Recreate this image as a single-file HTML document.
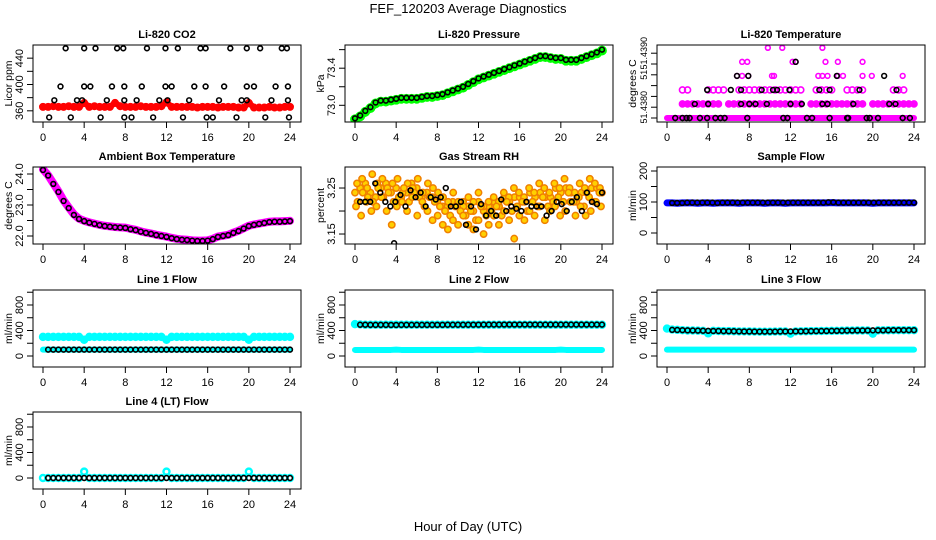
<!DOCTYPE html>
<html><head><meta charset="utf-8"><title>FEF_120203 Average Diagnostics</title>
<style>
html,body{margin:0;padding:0;background:#fff;}
svg{display:block;font-family:"Liberation Sans",Arial,sans-serif;}
</style></head>
<body>
<svg id="chart" width="936" height="540" viewBox="0 0 936 540" xmlns="http://www.w3.org/2000/svg">
<rect x="0" y="0" width="936" height="540" fill="#fff"/>
<text x="468" y="13" text-anchor="middle" font-size="13">FEF_120203  Average Diagnostics</text>
<text x="468" y="531" text-anchor="middle" font-size="13">Hour of Day (UTC)</text>
</svg>
<script>
// ---------- data ----------
const xTickValues = [0,4,8,12,16,20,24];
const xTickLabels = ["0","4","8","12","16","20","24"];

// CO2
const co2Red = [366,366,367,366,366,367,366,366,372,366,367,366,366,366,372,367,366,366,366,367,366,366,366,367,373,366,366,366,366,366,365,366,366,366,365,366,366,366,365,365,372,365,365,365,366,365,365,366,366];
const co2BlackHours = [2.2,4.0,5.1,7.2,7.8,10.1,11.9,13.1,15.3,15.8,18.2,19.8,21.1,23.2,23.7, 1.7,4.0,4.6,6.7,7.9,9.6,11.9,12.5,14.7,15.8,17.6,19.8,20.5,22.6,23.8, 1.1,3.3,3.8,6.2,7.9,9.1,11.3,12.1,14.2,17.1,19.3,19.8,22.2,23.8, 0.6,2.7,5.6,7.9,8.6,10.7,13.6,15.9,16.5,18.8,21.6,23.9];
const co2BlackValues = [455,455,455,455,455,455,455,455,455,455,455,455,455,455,455, 397,397,397,397,397,397,397,397,397,397,397,397,397,397,397, 376,376,376,376,376,376,376,376,376,376,376,376,376,376, 350,350,350,350,350,350,350,350,350,350,350,350];

// Pressure
const presGreen = [72.85,72.88,72.93,72.97,73.02,73.04,73.04,73.05,73.06,73.07,73.07,73.07,73.07,73.08,73.09,73.09,73.10,73.11,73.13,73.15,73.17,73.19,73.22,73.25,73.28,73.30,73.32,73.34,73.36,73.38,73.40,73.42,73.44,73.46,73.48,73.50,73.52,73.52,73.51,73.50,73.50,73.48,73.48,73.48,73.50,73.52,73.54,73.56,73.59];
const presBlack = [72.86,72.89,72.94,72.98,73.03,73.05,73.05,73.06,73.07,73.08,73.08,73.08,73.08,73.09,73.10,73.10,73.11,73.12,73.14,73.16,73.18,73.20,73.23,73.26,73.29,73.31,73.33,73.35,73.37,73.39,73.41,73.43,73.45,73.47,73.49,73.51,73.53,73.53,73.52,73.51,73.51,73.49,73.49,73.49,73.51,73.53,73.55,73.57,73.60];

// Li-820 temperature (discrete levels)
const ltL0 = 51.43800, ltL1 = 51.43813, ltL2 = 51.43826, ltL3 = 51.43839, ltL4 = 51.43852, ltL5 = 51.43865;
const ltMag0 = [ltL0,ltL0,ltL0,ltL0,ltL0,ltL0,ltL0,ltL0,ltL0,ltL0,ltL0,ltL0,ltL0,ltL0,ltL0,ltL0,ltL0,ltL0,ltL0,ltL0,ltL0,ltL0,ltL0,ltL0,ltL0,ltL0,ltL0,ltL0,ltL0,ltL0,ltL0,ltL0,ltL0,ltL0,ltL0,ltL0,ltL0,ltL0,ltL0,ltL0,ltL0,ltL0,ltL0,ltL0,ltL0,ltL0,ltL0,ltL0,ltL0];
const ltMag1 = [null,null,null,ltL1,ltL1,ltL1,ltL1,ltL1,ltL1,ltL1,ltL1,null,ltL1,ltL1,ltL1,ltL1,ltL1,ltL1,ltL1,ltL1,ltL1,ltL1,ltL1,ltL1,ltL1,ltL1,ltL1,null,ltL1,ltL1,ltL1,ltL1,ltL1,ltL1,ltL1,ltL1,ltL1,ltL1,ltL1,null,ltL1,ltL1,ltL1,ltL1,ltL1,ltL1,ltL1,ltL1,ltL1];
const ltMag2 = [null,null,null,ltL2,ltL2,null,null,null,ltL2,ltL2,ltL2,ltL2,null,null,ltL2,ltL2,ltL2,ltL2,ltL2,ltL2,ltL2,ltL2,ltL2,ltL2,ltL2,ltL2,ltL2,null,null,ltL2,ltL2,ltL2,ltL2,null,null,ltL2,ltL2,ltL2,ltL2,null,null,null,null,null,ltL2,ltL2,ltL2,null,null];
const ltMagHours = [6.8,7.3,7.9,10.2,10.4,14.7,15.1,15.6,16.6,17.1,19.0,19.9,22.9, 7.3,7.8,12.2,12.5,15.4,16.6,19.0, 9.8,11.2,15.1];
const ltMagValues = [ltL3,ltL3,ltL3,ltL3,ltL3,ltL3,ltL3,ltL3,ltL3,ltL3,ltL3,ltL3,ltL3, ltL4,ltL4,ltL4,ltL4,ltL4,ltL4,ltL4, ltL5,ltL5,ltL5];
const ltBlackHours = [0.8,1.5,1.9,2.2,3.2,3.9,4.7,5.2,5.6,7.8,11.3,11.7,13.6,14.1,15.8,17.5,17.6,19.4,19.7,20.5,22.9,23.6, 2.7,4.0,7.2,8.0,8.6,9.7,12.0,13.1,15.1,15.6,18.1,21.6,22.2, 3.9,6.2,7.2,9.2,10.3,10.7,11.9,14.8,15.8,18.7,22.3, 6.8,7.9,16.5,21.1, 12.5];
const ltBlackValues = [ltL0,ltL0,ltL0,ltL0,ltL0,ltL0,ltL0,ltL0,ltL0,ltL0,ltL0,ltL0,ltL0,ltL0,ltL0,ltL0,ltL0,ltL0,ltL0,ltL0,ltL0,ltL0, ltL1,ltL1,ltL1,ltL1,ltL1,ltL1,ltL1,ltL1,ltL1,ltL1,ltL1,ltL1,ltL1, ltL2,ltL2,ltL2,ltL2,ltL2,ltL2,ltL2,ltL2,ltL2,ltL2,ltL2, ltL3,ltL3,ltL3,ltL3, ltL4];

// Ambient box temperature
const ambMagenta = [24.15,23.96,23.70,23.44,23.15,22.92,22.70,22.56,22.49,22.44,22.40,22.36,22.33,22.31,22.29,22.28,22.27,22.23,22.20,22.15,22.11,22.08,22.04,22.01,21.98,21.94,21.91,21.89,21.88,21.86,21.85,21.85,21.86,21.91,21.98,22.01,22.04,22.11,22.17,22.25,22.33,22.37,22.40,22.43,22.46,22.47,22.47,22.48,22.49];
const ambBlack = [24.13,23.95,23.68,23.42,23.13,22.90,22.68,22.55,22.48,22.43,22.39,22.35,22.32,22.30,22.28,22.27,22.26,22.22,22.19,22.14,22.10,22.07,22.03,22.00,21.97,21.93,21.90,21.88,21.87,21.85,21.84,21.84,21.85,21.90,21.97,22.00,22.03,22.10,22.16,22.24,22.32,22.36,22.39,22.42,22.45,22.46,22.46,22.47,22.48];

// Gas stream RH
const rhCloudA = [3.26,3.27,3.25,3.28,3.26,3.27,3.25,3.26,3.27,3.24,3.26,3.25,3.27,3.24,3.26,3.25,3.24,3.23,3.22,3.24,3.22,3.21,3.23,3.22,3.24,3.21,3.22,3.23,3.22,3.24,3.23,3.25,3.24,3.23,3.25,3.24,3.26,3.25,3.24,3.26,3.25,3.27,3.25,3.24,3.26,3.25,3.27,3.26,3.25];
const rhCloudB = [3.22,3.24,3.23,3.22,3.25,3.23,3.24,3.22,3.23,3.25,3.22,3.24,3.23,3.21,3.23,3.22,3.21,3.20,3.19,3.21,3.20,3.19,3.20,3.18,3.21,3.19,3.20,3.21,3.19,3.22,3.20,3.21,3.22,3.20,3.22,3.21,3.23,3.21,3.22,3.23,3.22,3.24,3.22,3.23,3.21,3.23,3.22,3.24];
const rhCloudC = [3.21,3.19,3.22,3.20,3.21,3.23,3.20,3.17,3.21,3.22,3.20,3.23,3.19,3.22,3.20,3.18,3.19,3.17,3.16,3.18,3.17,3.19,3.17,3.16,3.18,3.15,3.17,3.19,3.17,3.20,3.18,3.14,3.19,3.18,3.20,3.19,3.21,3.18,3.20,3.21,3.19,3.20,3.22,3.19,3.21,3.19,3.20,3.22,3.21];
const rhCloudD = [3.24,3.25,3.26,3.24,3.23,3.25,3.26,3.24,3.25,3.23,3.24,3.26,3.25,3.23,3.24,3.23,3.22,3.21,3.21,3.22,3.21,3.22,3.21,3.20,3.22,3.20,3.21,3.22,3.21,3.23,3.22,3.23,3.23,3.22,3.24,3.23,3.24,3.23,3.23,3.25,3.24,3.25,3.24,3.22,3.24,3.24,3.25,3.25,3.24];
const rhBlack = [3.22,3.22,3.22,3.26,3.24,3.22,3.21,3.22,3.235,3.21,3.245,3.23,3.24,3.21,3.23,3.225,3.23,3.25,3.21,3.21,3.22,3.17,3.21,3.16,3.215,3.19,3.20,3.19,3.225,3.20,3.21,3.205,3.20,3.22,3.21,3.21,3.21,3.19,3.20,3.22,3.215,3.20,3.22,3.23,3.20,3.24,3.22,3.215,3.24];
const rhOutlierHours = [3.8];
const rhOutlierValues = [3.13];

// Sample flow
const sampleBlue = [97,97,96,97,97,97,96,97,97,96,97,97,97,97,96,97,97,97,97,96,97,97,97,96,97,97,97,97,97,97,97,97,98,97,97,97,97,97,97,97,96,97,97,97,97,97,97,97,97];
const sampleBlack = [97,97,97,98,98,98,98,98,98,97,98,98,98,98,98,98,98,98,98,98,98,98,98,98,98,98,98,98,98,98,98,99,99,98,98,98,98,98,98,98,98,98,98,98,98,98,98,98,98];

// Line flows
const l1CyanHigh = [300,300,300,300,300,300,300,300,255,300,300,300,300,300,300,300,300,300,300,300,300,300,300,300,255,300,300,300,300,300,300,300,300,300,300,300,300,300,300,300,255,300,300,300,300,300,300,300,300];
const l1CyanLow = [100,100,100,100,100,100,100,100,100,100,100,100,100,100,100,100,100,100,100,100,100,100,100,100,100,100,100,100,100,100,100,100,100,100,100,100,100,100,100,100,100,100,100,100,100,100,100,100,100];
const l1Black = [null,100,100,100,100,100,100,100,100,100,100,100,100,100,100,100,100,100,100,100,100,100,100,100,100,100,100,100,100,100,100,100,100,100,100,100,100,100,100,100,100,100,100,100,100,100,100,100,100];
const l2CyanHigh = [500,495,490,490,490,490,490,490,490,490,490,490,490,490,490,490,490,490,490,490,490,490,490,490,490,490,490,490,490,490,490,490,490,490,490,490,490,490,490,490,490,490,490,490,490,490,490,490,490];
const l2CyanLow = [95,95,95,95,95,95,95,95,100,95,95,95,95,95,95,95,95,95,95,95,95,95,95,95,100,95,95,95,95,95,95,95,95,95,95,95,95,95,95,95,100,95,95,95,95,95,95,95,95];
const l2Black = [null,490,490,488,488,488,488,487,487,488,488,488,488,488,488,488,489,489,490,490,490,490,490,491,491,492,492,492,492,493,493,493,493,493,493,493,492,492,492,492,492,492,492,492,492,492,492,492,492];
const l3CyanHigh = [430,415,410,405,400,400,398,395,355,395,392,390,390,388,386,385,384,383,382,382,382,383,384,385,350,386,387,388,390,391,392,393,394,395,396,398,399,400,400,401,350,402,403,404,405,405,405,405,405];
const l3CyanLow = [100,100,100,100,100,100,100,100,100,100,100,100,100,100,100,100,100,100,100,100,100,100,100,100,100,100,100,100,100,100,100,100,100,100,100,100,100,100,100,100,100,100,100,100,100,100,100,100,100];
const l3Black = [null,410,408,405,402,400,398,396,395,393,392,390,389,388,386,385,384,383,382,382,382,383,384,385,386,387,387,388,390,391,392,393,394,395,396,398,399,400,400,401,402,402,403,404,405,405,405,405,405];
const l4Cyan = [0,0,0,0,0,0,0,0,100,0,0,0,0,0,0,0,0,0,0,0,0,0,0,0,100,0,0,0,0,0,0,0,0,0,0,0,0,0,0,0,100,0,0,0,0,0,0,0,0];
const l4Black = [null,0,0,0,0,0,0,0,0,0,0,0,0,0,0,0,0,0,0,0,0,0,0,0,0,0,0,0,0,0,0,0,0,0,0,0,0,0,0,0,0,0,0,0,0,0,0,0,0];

// ---------- drawing ----------
const NS = "http://www.w3.org/2000/svg";
const svg = document.getElementById("chart");
const rowTops = [45,167,290,412];
const BOX_W = 268, BOX_H = 77;

function mk(tag, attrs, parent){
  const e = document.createElementNS(NS, tag);
  for (const k in attrs) e.setAttribute(k, attrs[k]);
  (parent||svg).appendChild(e);
  return e;
}

function panel(col,row,title,ylab,ymin,ymax,yTicks,yLabels,name,yFont){
  const left = 33 + 312*col, top = rowTops[row];
  const g = mk("g",{});
  
  
  const xs = h => left + 10 + h*(247/24);
  const ys = v => top + BOX_H - (v - ymin)/(ymax - ymin)*BOX_H;
  const t = mk("text",{x:left+BOX_W/2, y:top-7, "text-anchor":"middle","font-size":"11","font-weight":"bold"},g);
  t.textContent = title;
  
  
  const yl = mk("text",{x:0,y:0,"text-anchor":"middle","font-size":"10.5",transform:`translate(${left-21},${top+BOX_H/2}) rotate(-90)`},g);
  yl.textContent = ylab;
  
  
  // x axis
  xTickValues.forEach((v,i)=>{
    const x = xs(v);
    const tk = mk("line",{x1:x,x2:x,y1:top+BOX_H,y2:top+BOX_H+6,stroke:"#000","stroke-width":1},g);
    
    
    const lb = mk("text",{x:x,y:top+BOX_H+19,"text-anchor":"middle","font-size":"11"},g);
    lb.textContent = xTickLabels[i];
    
    
  });
  const xa = mk("line",{x1:xs(0),x2:xs(24),y1:top+BOX_H,y2:top+BOX_H,stroke:"#000"},g);
  
  
  // y axis
  yTicks.forEach((v,i)=>{
    const y = ys(v);
    const tk = mk("line",{x1:left-6,x2:left,y1:y,y2:y,stroke:"#000"},g);
    
    
    if (yLabels[i]) {
      const lb = mk("text",{x:0,y:0,"text-anchor":"middle","font-size":yFont||"11",transform:`translate(${left-10},${y}) rotate(-90)`},g);
      lb.textContent = yLabels[i];
      
      
    }
  });
  // clip
  const cid = "clip"+col+"_"+row;
  const cp = mk("clipPath",{id:cid},g);
  mk("rect",{x:left,y:top,width:BOX_W,height:BOX_H},cp);
  const pg = mk("g",{"clip-path":`url(#${cid})`},g);
  
  
  const box = mk("rect",{x:left,y:top,width:BOX_W,height:BOX_H,fill:"none",stroke:"#000","stroke-width":1},g);
  
  
  return {xs,ys,pg};
}

function pts(p, hours, vals, color, r, sw, label, fill){
  for (let i=0;i<vals.length;i++){
    if (vals[i]===null || vals[i]===undefined) continue;
    const c = mk("circle",{cx:p.xs(hours[i]).toFixed(2),cy:p.ys(vals[i]).toFixed(2),r:r,fill:fill||"none",stroke:color,"stroke-width":sw},p.pg);
    
    
  }
}
function hoursFor(vals,h0,h1){
  const a = (h0===undefined)?0:h0, b = (h1===undefined)?24:h1;
  const n = vals.length;
  return vals.map((v,i)=> a + i*(b-a)/(n-1));
}
function series(p, vals, color, r, sw, label, h0, h1, fill){
  pts(p, hoursFor(vals,h0,h1), vals, color, r, sw, label, fill);
}
// dense band: thick polyline through the same data (emulates densely overplotted points)
function band(p, vals, color, w, label, h0, h1){
  const hs = hoursFor(vals,h0,h1);
  let segs = [], cur = [];
  vals.forEach((v,i)=>{
    if (v===null){ if(cur.length) segs.push(cur); cur=[]; return; }
    cur.push(p.xs(hs[i]).toFixed(2)+","+p.ys(v).toFixed(2));
  });
  if (cur.length) segs.push(cur);
  segs.forEach(s=>{
    const pl = mk("polyline",{points:s.join(" "),fill:"none",stroke:color,"stroke-width":w,"stroke-linecap":"round","stroke-linejoin":"round"},p.pg);
    
    
  });
}

const BK = "#000", R1 = 2.4, W1 = 1.6, R2 = 3, W2 = 2.4;

// Row 1
let p = panel(0,0,"Li-820 CO2","Licor ppm",343,460,[360,380,400,420,440],["360","","400","","440"],"co2");
band(p, co2Red, "#ff0000", 6, "co2-red-band");
series(p, co2Red, "#ff0000", 3, 2, "co2-red-point");
pts(p, co2BlackHours, co2BlackValues, BK, R1, W1, "co2-black-point");

p = panel(1,0,"Li-820 Pressure","kPa",72.82,73.65,[73.0,73.2,73.4,73.6],["73.0","","73.4",""],"pressure");
band(p, presGreen, "#00ff00", 8, "pressure-green-band");
series(p, presGreen, "#00ff00", 3.4, 3, "pressure-green-point");
series(p, presBlack, BK, R1, W1, "pressure-black-point");

p = panel(2,0,"Li-820 Temperature","degrees C",51.437963,51.438676,[51.4380,51.4381,51.4382,51.4383,51.4384,51.4385,51.4386],["","51.4380","","","51","","51.4390"],"li-temperature","9");
band(p, ltMag0, "#ff00ff", 6, "li-temp-magenta-band");
band(p, ltMag1, "#ff00ff", 5, "li-temp-magenta-band");
series(p, ltMag1, "#ff00ff", R2, W1, "li-temp-magenta-point");
series(p, ltMag2, "#ff00ff", R2, W1, "li-temp-magenta-point");
pts(p, ltMagHours, ltMagValues, "#ff00ff", R1, W1, "li-temp-magenta-point");
pts(p, ltBlackHours, ltBlackValues, BK, R1, W1, "li-temp-black-point");

// Row 2
p = panel(0,1,"Ambient Box Temperature","degrees C",21.742,24.226,[22,22.5,23,23.5,24],["22.0","","23.0","","24.0"],"ambient");
band(p, ambMagenta, "#ff00ff", 8, "ambient-magenta-band");
series(p, ambBlack, BK, R1, W1, "ambient-black-point");

p = panel(1,1,"Gas Stream RH","percent",3.1283,3.2957,[3.15,3.20,3.25],["3.15","","3.25"],"rh");
series(p, rhCloudD, "#f08000", 3.2, 1.5, "rh-cloud-point", 0, 24, "#ffd000");
series(p, rhCloudA, "#f08000", 3.2, 1.5, "rh-cloud-point", 0.2, 23.8, "#ffd000");
series(p, rhCloudB, "#f08000", 3.2, 1.5, "rh-cloud-point", 0.25, 23.75, "#ffd000");
series(p, rhCloudC, "#f08000", 3.2, 1.5, "rh-cloud-point", 0.1, 23.9, "#ffd000");
series(p, rhBlack, BK, R1, W1, "rh-black-point", 0.5, 24);
pts(p, rhOutlierHours, rhOutlierValues, BK, R1, W1, "rh-black-point");

p = panel(2,1,"Sample Flow","ml/min",-35.5,212.9,[0,50,100,150,200],["0","","100","","200"],"sample-flow");
band(p, sampleBlue, "#0000ff", 7, "sample-blue-band");
series(p, sampleBlack, BK, R1, W1, "sample-black-point", 0.5, 24);

// Row 3
const flowTicks = [0,200,400,600,800,1000], flowLabels = ["0","","400","","800",""];
p = panel(0,2,"Line 1 Flow","ml/min",-172.5,1035,flowTicks,flowLabels,"line1");
band(p, l1CyanHigh, "#00ffff", 6, "line1-cyan-band");
series(p, l1CyanHigh, "#00ffff", R2, W2, "line1-cyan-point");
band(p, l1CyanLow, "#00ffff", 6, "line1-cyan-band");
series(p, l1Black, BK, R1, W1, "line1-black-point");

p = panel(1,2,"Line 2 Flow","ml/min",-172.5,1035,flowTicks,flowLabels,"line2");
band(p, l2CyanHigh, "#00ffff", 6, "line2-cyan-band");
series(p, l2CyanHigh, "#00ffff", R2, W2, "line2-cyan-point");
band(p, l2CyanLow, "#00ffff", 6, "line2-cyan-band");
series(p, l2Black, BK, R1, W1, "line2-black-point");

p = panel(2,2,"Line 3 Flow","ml/min",-172.5,1035,flowTicks,flowLabels,"line3");
band(p, l3CyanHigh, "#00ffff", 6, "line3-cyan-band");
series(p, l3CyanHigh, "#00ffff", R2, W2, "line3-cyan-point");
band(p, l3CyanLow, "#00ffff", 6, "line3-cyan-band");
series(p, l3Black, BK, R1, W1, "line3-black-point");

// Row 4
p = panel(0,3,"Line 4 (LT) Flow","ml/min",-172.5,1035,flowTicks,flowLabels,"line4");
series(p, l4Cyan, "#00ffff", R2, W2, "line4-cyan-point");
series(p, l4Black, BK, R1, W1, "line4-black-point");
</script>
</body></html>
